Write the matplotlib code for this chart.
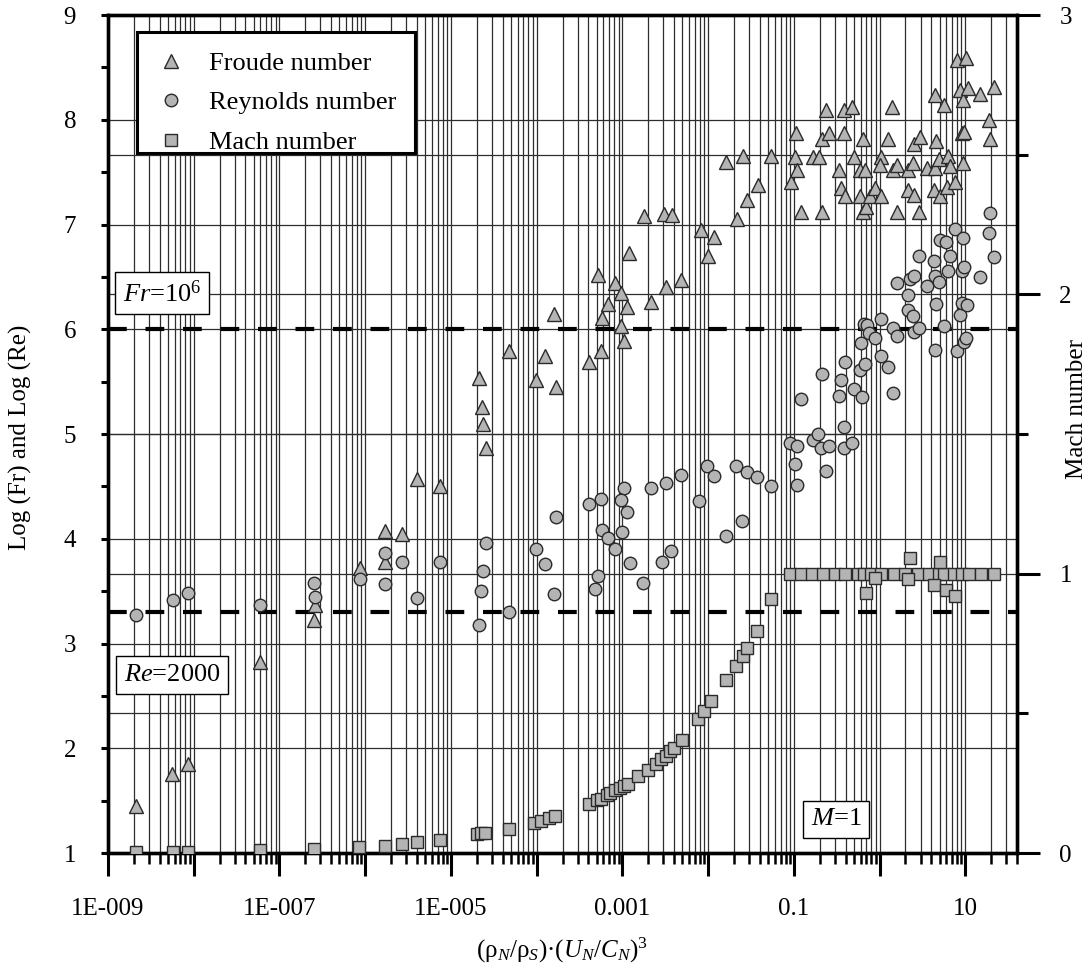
#Froude, Reynolds and Mach numbers against the density/velocity parameter
import matplotlib
matplotlib.use("Agg")
import matplotlib.pyplot as plt
import matplotlib.ticker as mticker
import matplotlib.transforms as mtransforms
from matplotlib.patches import Rectangle
import numpy as np

plt.rcParams['font.family'] = ['Liberation Serif', 'DejaVu Serif']
plt.rcParams['font.size'] = 18
plt.rcParams['mathtext.fontset'] = 'custom'
plt.rcParams['mathtext.rm'] = 'Liberation Serif'
plt.rcParams['mathtext.it'] = 'Liberation Serif:italic'
plt.rcParams['mathtext.bf'] = 'Liberation Serif:bold'

#*******************DATA*******************
#Froude number, log10(Fr)
fr_x = [2.1e-9, 5.55e-9, 8.5e-9, 5.85e-8, 2.55e-7, 2.62e-7, 8.75e-7, 1.71e-6, 1.71e-6, 2.69e-6, 4.03e-6, 7.45e-6,
        2.12e-5, 2.29e-5, 2.36e-5, 2.55e-5, 4.72e-5, 9.7e-5, 1.24e-4, 1.66e-4, 1.58e-4, 4.03e-4, 5.7e-4, 5.85e-4,
        6.87e-4, 5.12e-4, 8.3e-4, 9.7e-4, 1.14e-3, 9.7e-4, 1.03e-3, 2.17e-3, 3.25e-3, 4.85e-3, 1.2e-3, 1.8e-3,
        3.08e-3, 3.81e-3, 8.3e-3, 0.01, 0.0117, 0.0162, 0.0217, 0.0255, 0.0284, 0.0381, 0.054,
        0.0923, 0.103, 0.108, 0.105, 0.12, 0.166, 0.195, 0.212, 0.212, 0.236, 0.255, 0.333, 0.352, 0.381, 0.381,
        0.472, 0.392, 0.499, 0.585, 0.585, 0.634, 0.634, 0.67, 0.687, 0.766, 0.875, 1.03, 1.0, 1.03, 1.24, 1.38,
        1.42, 1.58, 1.58, 2.12, 2.17, 2.42, 2.55, 2.55, 2.84, 2.92, 3.52, 4.25, 4.37, 4.48, 4.6, 4.99, 5.12, 5.7,
        6.18, 6.34, 6.7, 7.65, 8.07, 8.75, 9.23, 9.48, 9.48, 9.73, 10.3, 10.8, 14.9, 19.0, 19.5, 21.7]
fr_log = [1.45, 1.75, 1.85, 2.82, 3.22, 3.37, 3.72, 4.07, 3.78, 4.05, 4.57, 4.50,
          5.53, 5.26, 5.10, 4.87, 5.79, 5.52, 5.74, 5.45, 6.15, 5.69, 5.79, 6.11,
          6.24, 6.52, 6.44, 6.35, 6.21, 6.03, 5.89, 6.26, 6.40, 6.47, 6.73, 7.08,
          7.10, 7.09, 6.95, 6.70, 6.88, 7.60, 7.05, 7.65, 7.23, 7.38, 7.65,
          7.41, 7.64, 7.52, 7.87, 7.12, 7.64, 7.64, 7.82, 7.12, 8.09, 7.87, 7.52, 7.35, 8.09, 7.87,
          8.12, 7.27, 7.64, 7.52, 7.27, 7.82, 7.12, 7.52, 7.17, 7.27, 7.35, 7.64, 7.57, 7.27, 7.82, 8.12,
          7.52, 7.57, 7.12, 7.52, 7.33, 7.59, 7.77, 7.28, 7.12, 7.84, 7.54, 7.33, 8.24, 7.54, 7.80, 7.63, 7.27, 8.14,
          7.36, 7.65, 7.56, 7.41, 8.57, 8.28, 7.87, 8.19, 7.59, 7.88, 8.59, 8.30, 8.25, 8.00, 7.82, 8.31]

#Reynolds number, log10(Re)
re_x = [2.12e-9, 5.7e-9, 8.5e-9, 5.85e-8, 2.55e-7, 2.62e-7, 8.75e-7, 1.71e-6, 1.71e-6, 2.69e-6, 4.03e-6, 7.45e-6,
        2.55e-5, 2.36e-5, 2.23e-5, 2.12e-5, 4.72e-5, 9.7e-5, 1.24e-4, 1.58e-4, 1.66e-4, 4.03e-4, 5.7e-4, 5.85e-4,
        6.87e-4, 8.3e-4, 5.12e-4, 4.85e-4, 1.03e-3, 9.7e-4, 1.14e-3, 1.0e-3, 1.24e-3, 1.75e-3, 2.17e-3, 2.92e-3,
        3.25e-3, 3.72e-3, 4.85e-3, 7.85e-3, 9.73e-3, 0.0117, 0.0162, 0.0212, 0.0248, 0.0284, 0.0372, 0.054,
        0.0897, 0.103, 0.108, 0.108, 0.12, 0.166, 0.19, 0.206, 0.212, 0.236, 0.255, 0.333, 0.352, 0.381, 0.381,
        0.392, 0.472, 0.499, 0.585, 0.601, 0.618, 0.652, 0.67, 0.706, 0.745, 0.875, 1.03, 1.03, 1.24, 1.42, 1.42,
        1.58, 1.58, 2.12, 2.17, 2.29, 2.42, 2.55, 2.55, 2.84, 2.84, 3.52, 4.25, 4.37, 4.37, 4.6, 4.99, 5.12, 5.7,
        6.01, 6.34, 6.7, 7.65, 8.07, 8.75, 9.23, 9.23, 9.48, 9.73, 9.73, 10.3, 10.5, 14.9, 19.0, 19.5, 21.7]
re_log = [3.27, 3.42, 3.48, 3.37, 3.58, 3.44, 3.62, 3.86, 3.57, 3.78, 3.43, 3.78,
          3.96, 3.69, 3.50, 3.18, 3.30, 3.90, 3.76, 3.47, 4.21, 4.33, 4.38, 4.08,
          4.01, 3.90, 3.64, 3.52, 4.48, 4.37, 4.26, 4.06, 3.77, 3.58, 4.48, 3.78,
          4.53, 3.88, 4.61, 4.36, 4.69, 4.60, 4.03, 4.69, 4.17, 4.64, 4.59, 4.50,
          4.91, 4.71, 4.89, 4.51, 5.33, 4.94, 5.00, 4.87, 5.57, 4.65, 4.89, 5.36, 5.52, 5.07, 4.87,
          5.69, 4.91, 5.43, 5.61, 5.87, 5.35, 6.05, 5.67, 6.04, 5.96, 5.92, 5.74, 6.10, 5.64, 6.01, 5.39,
          6.44, 5.94, 6.18, 6.33, 6.48, 6.13, 6.51, 5.97, 6.70, 6.01, 6.41, 6.65, 6.51, 5.80, 6.24, 6.45, 6.85, 6.03,
          6.83, 6.56, 6.70, 6.96, 5.79, 6.14, 6.25, 6.56, 6.87, 6.59, 5.88, 5.92, 6.23, 6.50, 6.92, 7.11, 6.69]

#Mach number (right axis)
mach_x = [2.12e-9, 5.7e-9, 8.5e-9, 5.85e-8, 2.55e-7, 8.5e-7, 1.71e-6, 2.69e-6, 4.03e-6, 7.45e-6,
          2.0e-5, 2.23e-5, 2.48e-5, 4.72e-5, 9.2e-5, 1.11e-4, 1.38e-4, 1.62e-4,
          4.03e-4, 4.99e-4, 5.7e-4, 6.52e-4, 7.24e-4, 8.3e-4, 9.48e-4, 1.05e-3, 1.17e-3, 1.53e-3, 2.0e-3,
          2.48e-3, 2.84e-3, 3.25e-3, 3.61e-3, 4.03e-3, 4.99e-3, 7.65e-3, 8.97e-3, 0.0108, 0.0162, 0.0212,
          0.0255, 0.0284, 0.0372, 0.054,
          0.0897, 0.12, 0.162, 0.217, 0.3, 0.392, 0.555, 0.652, 0.785, 1.03, 1.49, 1.95, 2.77, 3.81, 4.99,
          5.7, 7.45, 9.23, 11.1, 15.3, 21.7,
          0.687, 0.875, 2.17, 2.29, 4.25, 5.12, 6.01, 7.65]
mach = [0.004, 0.004, 0.004, 0.011, 0.015, 0.023, 0.026, 0.034, 0.038, 0.045,
        0.068, 0.071, 0.071, 0.086, 0.109, 0.116, 0.124, 0.131,
        0.176, 0.188, 0.195, 0.206, 0.214, 0.225, 0.233, 0.240, 0.248, 0.274, 0.296,
        0.319, 0.338, 0.349, 0.364, 0.375, 0.405, 0.480, 0.510, 0.544, 0.619, 0.668,
        0.705, 0.735, 0.795, 0.908,
        1.0, 1.0, 1.0, 1.0, 1.0, 1.0, 1.0, 1.0, 1.0, 1.0, 1.0, 1.0, 1.0, 1.0, 1.0,
        1.0, 1.0, 1.0, 1.0, 1.0, 1.0,
        0.93, 0.985, 0.98, 1.056, 0.96, 1.04, 0.94, 0.92]

#critical values (log10)
fr_crit = 6.0
re_crit = 3.30

x_ticks = [1e-9, 1e-8, 1e-7, 1e-6, 1e-5, 1e-4, 1e-3, 1e-2, 1e-1, 1, 10]
x_tick_labels = ["1E-009", "", "1E-007", "", "1E-005", "", "0.001", "", "0.1", "", "10"]

#*******************PLOT*******************
fig = plt.figure(figsize=(10.92, 9.68), dpi=100)
ax = fig.add_axes([108/1092, 1-853/968, 909/1092, 838/968])
ax2 = ax.twinx()
#left axes on top so every marker sits above all grid lines
ax.set_zorder(ax2.get_zorder() + 1)
ax.patch.set_visible(False)

ax.set_xscale("log")
ax.set_xlim(1e-9, 40)
ax.set_ylim(1, 9)
ax2.set_ylim(0, 3)

grid_kw = dict(color="#2e2e2e", linewidth=0.9)
ax.set_axisbelow(True)
ax.grid(True, which="both", axis="x", **grid_kw)
ax.grid(True, which="major", axis="y", **grid_kw)
ax2.grid(True, which="both", axis="y", **grid_kw)

#threshold lines
for val in (fr_crit, re_crit):
    ax.axhline(val, color="black", linewidth=3, dashes=(4.5, 4.5), zorder=1.5)

mk = dict(linestyle="none", markerfacecolor="#b4b4b4", markeredgecolor="#2a2a2a", markeredgewidth=1.0)
ax.plot(fr_x, fr_log, marker="^", markersize=10.5, label="Froude number", zorder=3, **mk)
ax.plot(re_x, re_log, marker="o", markersize=9, label="Reynolds number", zorder=4, **mk)
mach_trans = mtransforms.blended_transform_factory(ax.transData, ax2.transData)
ax.plot(mach_x, mach, marker="s", markersize=8.5, label="Mach number", zorder=5,
        transform=mach_trans, **mk)
ax.set_ylim(1, 9)
ax.set_xlim(1e-9, 40)

#x axis ticks
ax.xaxis.set_major_locator(mticker.FixedLocator(x_ticks))
ax.xaxis.set_major_formatter(mticker.FixedFormatter(x_tick_labels))
ax.xaxis.set_minor_locator(mticker.LogLocator(base=10, subs=np.arange(2, 10), numticks=100))
ax.xaxis.set_minor_formatter(mticker.NullFormatter())
ax.tick_params(axis="x", which="major", direction="out", length=16.5, width=2.2, pad=16)
ax.tick_params(axis="x", which="minor", direction="out", length=8, width=1.8)

#left y ticks
ax.yaxis.set_major_locator(mticker.MultipleLocator(1))
ax.yaxis.set_minor_locator(mticker.MultipleLocator(0.5))
ax.tick_params(axis="y", which="both", direction="out", length=5, width=2.2, pad=18)

#right y ticks
ax2.yaxis.set_major_locator(mticker.MultipleLocator(1))
ax2.yaxis.set_minor_locator(mticker.MultipleLocator(0.5))
ax2.tick_params(axis="y", which="major", direction="out", length=16.5, width=2.2, pad=14)
ax2.tick_params(axis="y", which="minor", direction="out", length=8, width=2.2)

for a in (ax, ax2):
    for sp in a.spines.values():
        sp.set_linewidth(2.4)
        sp.set_color("black")

#labels, centred on their positions
ax.set_xlabel(r"$(\mathrm{ρ}_N/\mathrm{ρ}_S)\mathrm{·}(U_N/C_N)^3$", fontsize=18)
ax.xaxis.label.set_verticalalignment("center")
ax.xaxis.set_label_coords(0.5, -0.116)
ax.set_ylabel("Log (Fr) and Log (Re)", fontsize=18)
ax.yaxis.label.set_verticalalignment("center")
ax.yaxis.set_label_coords(-0.096, 0.496)
ax2.set_ylabel("Mach number", fontsize=18)
ax2.yaxis.label.set_verticalalignment("center")
ax2.yaxis.set_label_coords(1.066, 0.53)

#annotation boxes
box = dict(boxstyle="square,pad=0.3", facecolor="white", edgecolor="black", linewidth=1.0)
ax.text(0.0594, 0.668, r"$Fr$=10$^6$", transform=ax.transAxes, ha="center", va="center",
        fontsize=19, bbox=box, zorder=10)
ax.text(0.0704, 0.2124, r"$Re$=2000", transform=ax.transAxes, ha="center", va="center",
        fontsize=19, bbox=box, zorder=10)
ax.text(0.801, 0.040, r"$M$=1", transform=ax.transAxes, ha="center", va="center",
        fontsize=19, bbox=box, zorder=10)

#legend: frame drawn separately (rows sit low in the box, as in the original)
ax.add_patch(Rectangle((0.0319, 0.8353), 0.3058, 0.1444, transform=ax.transAxes,
                       facecolor="white", edgecolor="black", linewidth=2.2, zorder=19))
leg = ax.legend(loc="upper left", bbox_to_anchor=(0.0319, 0.972), borderaxespad=0, fontsize=19,
                frameon=False, borderpad=0.5, handlelength=1.6,
                handletextpad=0.64, labelspacing=0.6)
leg.set_zorder(20)

plt.savefig("out.png", dpi=100)
